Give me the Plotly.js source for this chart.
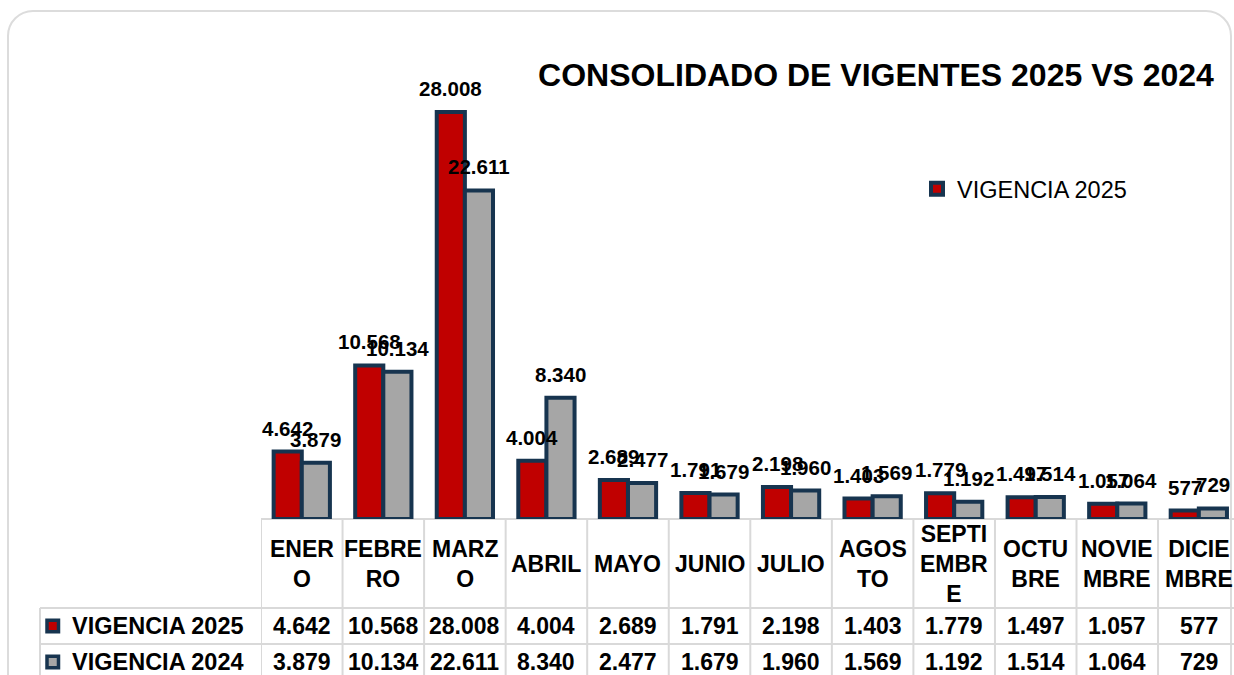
<!DOCTYPE html>
<html>
<head>
<meta charset="utf-8">
<script src="https://cdn.plot.ly/plotly-3.0.1.min.js"></script>
<style>
  body { margin: 0; background: #fff; }
  #wrap { position: relative; width: 1234px; height: 675px; overflow: hidden; }
  /* rounded card behind the chart */
  #card { position: absolute; left: 7px; top: 10px; width: 1225px; height: 690px;
          border: 2px solid #dcdcdc; border-radius: 26px; box-sizing: border-box; }
  #chart { position: absolute; left: 0; top: 0; width: 1234px; height: 675px; }
</style>
</head>
<body>
<div id="wrap"><div id="card"></div><div id="chart"></div></div>
<script>
// Data
const meses = ['ENERO', 'FEBRERO', 'MARZO', 'ABRIL', 'MAYO', 'JUNIO', 'JULIO',
               'AGOSTO', 'SEPTIEMBRE', 'OCTUBRE', 'NOVIEMBRE', 'DICIEMBRE'];
const etiquetasMes = ['ENER<br>O', 'FEBRE<br>RO', 'MARZ<br>O', 'ABRIL', 'MAYO', 'JUNIO', 'JULIO',
                      'AGOS<br>TO', 'SEPTI<br>EMBR<br>E', 'OCTU<br>BRE', 'NOVIE<br>MBRE', 'DICIE<br>MBRE'];
const vigencia2025 = [4642, 10568, 28008, 4004, 2689, 1791, 2198, 1403, 1779, 1497, 1057, 577];
const vigencia2024 = [3879, 10134, 22611, 8340, 2477, 1679, 1960, 1569, 1192, 1514, 1064, 729];
const nombreSerie2025 = 'VIGENCIA 2025';
const nombreSerie2024 = 'VIGENCIA 2024';
const titulo = 'CONSOLIDADO DE VIGENTES 2025 VS 2024';

// Styles / geometry
const W = 1234, H = 675;
const M = { l: 261, r: 0, t: 40, b: 156 };
const plotW = W - M.l - M.r;
const plotH = H - M.t - M.b;
const ROJO = '#c00000', GRIS = '#a6a6a6', AZUL = '#17344f', LINEA = '#d9d9d9';
const FONT = 'Liberation Sans, Arial, sans-serif';
const BARGAP = 0.31;
const OFF = (1 - BARGAP) / 4;   // centre offset of each bar in a group

// pixel -> paper helpers (for the table under the plot)
const px2x = px => (px - M.l) / plotW;
const py2y = py => (H - M.b - py) / plotH;

// Spanish thousands separator
const fmt = n => String(n).replace(/\B(?=(\d{3})+(?!\d))/g, '.');

const traces = [
    {
        type: 'bar', name: nombreSerie2025, x: meses, y: vigencia2025,
        marker: { color: ROJO, line: { color: AZUL, width: 4 } },
        hoverinfo: 'skip'
    },
    {
        type: 'bar', name: nombreSerie2024, x: meses, y: vigencia2024,
        marker: { color: GRIS, line: { color: AZUL, width: 4 } },
        showlegend: false, hoverinfo: 'skip'
    }
];

const annotations = [];
const shapes = [];

// data labels above bars
meses.forEach((m, i) => {
    annotations.push({
        x: i - OFF, y: vigencia2025[i], xref: 'x', yref: 'y',
        text: '<b>' + fmt(vigencia2025[i]) + '</b>', showarrow: false,
        yanchor: 'bottom', yshift: 10,
        font: { family: FONT, size: 20.5, color: '#000' }
    });
    annotations.push({
        x: i + OFF, y: vigencia2024[i], xref: 'x', yref: 'y',
        text: '<b>' + fmt(vigencia2024[i]) + '</b>', showarrow: false,
        yanchor: 'bottom', yshift: 10,
        font: { family: FONT, size: 20.5, color: '#000' }
    });
});

// data table: header row + two value rows
const yHeader = py2y(563.5), yRow1 = py2y(626), yRow2 = py2y(662);
etiquetasMes.forEach((lab, i) => {
    annotations.push({
        x: i, y: yHeader, xref: 'x', yref: 'paper', text: '<b>' + lab + '</b>',
        showarrow: false, xanchor: 'center', yanchor: 'middle',
        font: { family: FONT, size: 23, color: '#000' }
    });
    annotations.push({
        x: i, y: yRow1, xref: 'x', yref: 'paper', text: '<b>' + fmt(vigencia2025[i]) + '</b>',
        showarrow: false, xanchor: 'center', yanchor: 'middle',
        font: { family: FONT, size: 23, color: '#000' }
    });
    annotations.push({
        x: i, y: yRow2, xref: 'x', yref: 'paper', text: '<b>' + fmt(vigencia2024[i]) + '</b>',
        showarrow: false, xanchor: 'center', yanchor: 'middle',
        font: { family: FONT, size: 23, color: '#000' }
    });
});

// row labels with legend keys
[[nombreSerie2025, ROJO, yRow1, 626], [nombreSerie2024, GRIS, yRow2, 662]].forEach(([name, col, yy, py]) => {
    annotations.push({
        x: px2x(70), y: yy, xref: 'paper', yref: 'paper', text: '<b>' + name + '</b>',
        showarrow: false, xanchor: 'left', yanchor: 'middle',
        font: { family: FONT, size: 23.5, color: '#000' }
    });
    shapes.push({
        type: 'rect', xref: 'paper', yref: 'paper',
        x0: px2x(47), x1: px2x(58.5), y0: py2y(py - 5.75), y1: py2y(py + 5.75),
        fillcolor: col, line: { color: AZUL, width: 3.5 }
    });
});

// grid lines of the table
for (let i = 0; i <= meses.length; i++) {
    shapes.push({
        type: 'line', xref: 'x', yref: 'paper', x0: i - 0.5, x1: i - 0.5,
        y0: 0, y1: py2y(700), line: { color: LINEA, width: 2 }
    });
}
shapes.push({ type: 'line', xref: 'paper', yref: 'paper', x0: 0, x1: 1, y0: 0, y1: 0,
              line: { color: LINEA, width: 2 }, layer: 'below' });
[608, 644].forEach(py => {
    shapes.push({ type: 'line', xref: 'paper', yref: 'paper', x0: px2x(40), x1: 1,
                  y0: py2y(py), y1: py2y(py), line: { color: LINEA, width: 2 } });
});
shapes.push({ type: 'line', xref: 'paper', yref: 'paper', x0: px2x(40), x1: px2x(40),
              y0: py2y(608), y1: py2y(700), line: { color: LINEA, width: 2 } });

const layout = {
    width: W, height: H,
    margin: M,
    paper_bgcolor: 'rgba(0,0,0,0)',
    plot_bgcolor: 'rgba(0,0,0,0)',
    barmode: 'group', bargap: BARGAP, bargroupgap: 0,
    title: {
        text: '<b>' + titulo + '</b>', x: 876 / W, xanchor: 'center',
        y: 1 - 75 / H, yanchor: 'middle',
        font: { family: FONT, size: 32, color: '#000' }
    },
    xaxis: {
        type: 'category', range: [-0.5, -0.5 + plotW / 81.55],
        showticklabels: false, ticks: '', showgrid: false, zeroline: false, showline: false
    },
    yaxis: {
        range: [0, plotH / 0.014532],
        visible: false, showgrid: false, zeroline: false
    },
    showlegend: true,
    legend: {
        x: px2x(917), xanchor: 'left', y: py2y(189), yanchor: 'middle',
        bgcolor: 'rgba(0,0,0,0)',
        font: { family: FONT, size: 23.5, color: '#000' }
    },
    annotations: annotations,
    shapes: shapes
};

Plotly.newPlot('chart', traces, layout, { displayModeBar: false, staticPlot: true });
</script>
</body>
</html>
